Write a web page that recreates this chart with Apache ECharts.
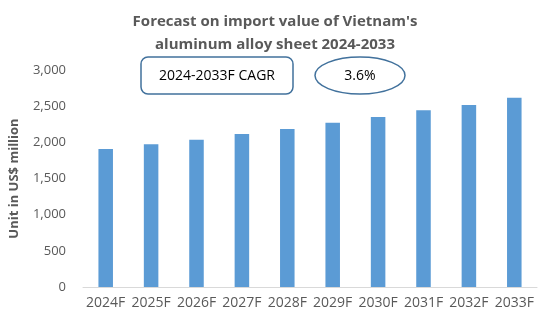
<!DOCTYPE html>
<html><head><meta charset="utf-8">
<script src="https://cdn.jsdelivr.net/npm/echarts@6/dist/echarts.min.js"></script>
<style>html,body{margin:0;padding:0;background:#fff}#c{width:550px;height:325px}</style>
</head><body><div id="c"></div>
<script>
var categories = ['2024F','2025F','2026F','2027F','2028F','2029F','2030F','2031F','2032F','2033F'];
var values = [1909, 1974, 2037, 2116, 2185, 2272, 2351, 2444, 2517, 2618];
var yTicks = [0, 500, 1000, 1500, 2000, 2500, 3000];
var titleLines = ["Forecast on import value of Vietnam's", "aluminum alloy sheet 2024-2033"];
var yAxisName = 'Unit in US$ million';
var cagrLabel = '2024-2033F CAGR';
var cagrValue = '3.6%';

var FONT = 'Open Sans';
var chart = echarts.init(document.getElementById('c'), null, {renderer: 'canvas'});
chart.setOption({
  animation: false,
  title: {
    text: titleLines.join('\n'),
    left: 'center', top: 5,
    textStyle: {fontFamily: FONT, fontSize: 15, fontWeight: 'bold', color: '#595959', lineHeight: 23}
  },
  grid: {left: 83, right: 13, top: 70, bottom: 38, containLabel: false},
  xAxis: {
    type: 'category', data: categories,
    axisLine: {show: true, lineStyle: {color: '#D9D9D9', width: 1}},
    axisTick: {show: false},
    axisLabel: {interval: 0, fontFamily: FONT, fontSize: 14, color: '#595959', margin: 9}
  },
  yAxis: {
    type: 'value', min: yTicks[0], max: yTicks[yTicks.length - 1], interval: yTicks[1] - yTicks[0],
    name: yAxisName, nameLocation: 'middle', nameGap: 62, nameRotate: 90,
    nameTextStyle: {fontFamily: FONT, fontSize: 13, fontWeight: 'bold', color: '#595959'},
    axisLine: {show: false}, axisTick: {show: false}, splitLine: {show: false},
    axisLabel: {fontFamily: FONT, fontSize: 13, color: '#595959', margin: 17,
      formatter: function (v) { return v.toLocaleString('en-US'); }}
  },
  series: [{
    type: 'bar', data: values, barWidth: '32%',
    itemStyle: {color: '#5B9BD5'}
  }],
  graphic: [
    {type: 'rect', shape: {x: 141, y: 57, width: 152, height: 37, r: 7},
     style: {fill: '#fff', stroke: '#41719C', lineWidth: 1.5}},
    {type: 'text', x: 217, y: 76, style: {text: cagrLabel, fontFamily: FONT, fontSize: 14, fill: '#000', align: 'center', verticalAlign: 'middle'}},
    {type: 'ellipse', shape: {cx: 360, cy: 75.5, rx: 45, ry: 18.5},
     style: {fill: '#fff', stroke: '#41719C', lineWidth: 1.5}},
    {type: 'text', x: 360, y: 76, style: {text: cagrValue, fontFamily: FONT, fontSize: 14, fill: '#000', align: 'center', verticalAlign: 'middle'}}
  ]
});
</script></body></html>
